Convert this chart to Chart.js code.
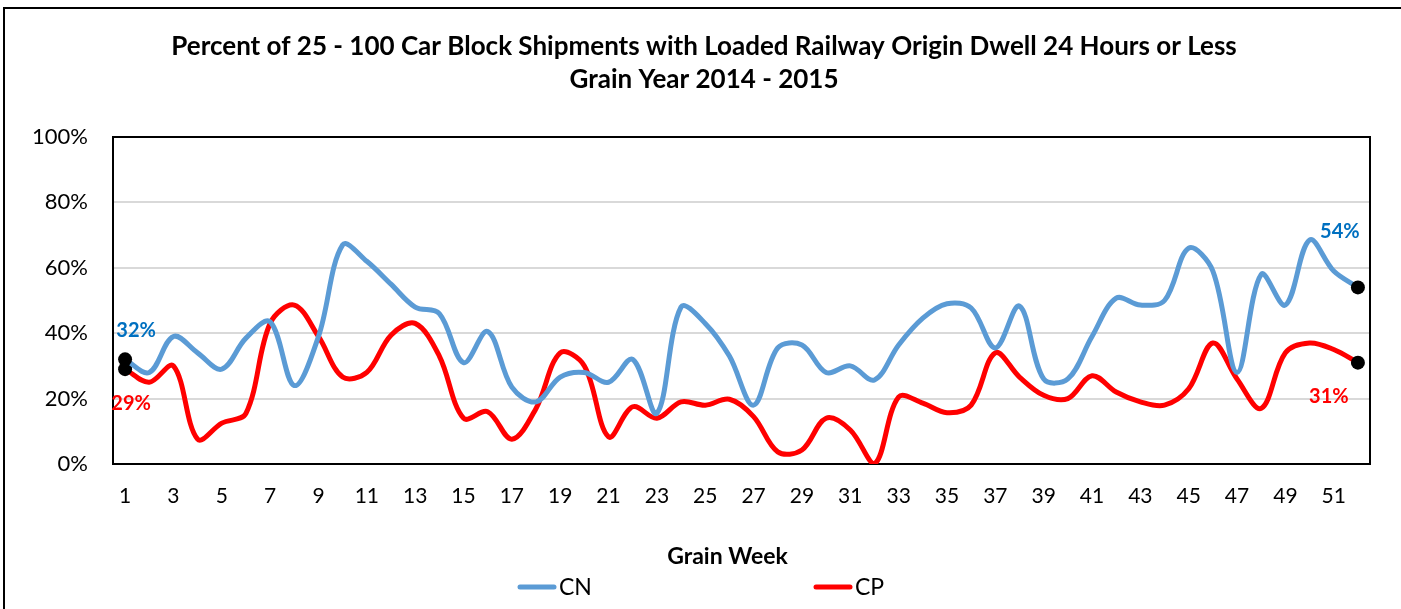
<!DOCTYPE html>
<html>
<head>
<meta charset="utf-8">
<title>Loaded Railway Origin Dwell</title>
<script src="https://cdn.jsdelivr.net/npm/chart.js@4.4.1/dist/chart.umd.min.js"></script>
<style>
    body { margin: 0; background: #fff; }
    #wrap { position: relative; width: 1401px; height: 609px; overflow: hidden; background: #fff; }
    #frame { position: absolute; left: 3px; top: 7px; width: 1420px; height: 640px; border-left: 2px solid #000; border-top: 2px solid #000; }
    canvas { position: absolute; left: 0; top: 0; }
</style>
</head>
<body>
<div id="wrap">
    <div id="frame"></div>
    <canvas id="dwellChart" width="1401" height="609"></canvas>
</div>
<script>
const weeks = [1, 2, 3, 4, 5, 6, 7, 8, 9, 10, 11, 12, 13, 14, 15, 16, 17, 18, 19, 20, 21, 22, 23, 24, 25, 26,
    27, 28, 29, 30, 31, 32, 33, 34, 35, 36, 37, 38, 39, 40, 41, 42, 43, 44, 45, 46, 47, 48, 49, 50, 51, 52];

const cnValues = [32, 28, 39, 34, 29, 38.5, 43.5, 24, 39, 67, 62, 55, 48, 46, 31, 40.5, 23.5, 19, 26.6, 28, 25, 32,
    15.5, 48, 43, 33, 18, 35.5, 36.4, 28, 30, 25.7, 36.4, 44.6, 49, 47.7, 35.5, 48.3, 26, 26, 39, 50.7, 48.6, 50,
    66, 59, 28, 58, 48.6, 68.5, 59, 54];

const cpValues = [29, 25, 30, 7.6, 12.5, 15.5, 43, 48.6, 39, 26.6, 28, 39.4, 43, 33, 14, 16, 7.6, 17, 34, 30, 8.3,
    17.5, 14, 19, 18, 19.8, 14.5, 3.7, 4.3, 14, 10.4, 0, 20.5, 18.6, 15.7, 18, 34, 26.6, 21, 20, 27, 22, 19, 18,
    23, 37, 26, 17, 34, 37, 35, 31];

const titleLines = ['Percent of 25 - 100 Car Block Shipments with Loaded Railway Origin Dwell 24 Hours or Less',
    'Grain Year 2014 - 2015'];
const xAxisTitle = 'Grain Week';

const FONT = 'Lato, "Liberation Sans", sans-serif';
const CN_COLOR = '#5B9BD5';
const CP_COLOR = '#FF0000';

// black dots only on the first and last week
const endPoint = (ctx) => (ctx.dataIndex === 0 || ctx.dataIndex === weeks.length - 1) ? 7 : 0;

// box around the plot area
const plotFrame = {
    id: 'plotFrame',
    beforeDatasetsDraw(chart) {
        const { ctx, chartArea: a } = chart;
        ctx.save();
        ctx.strokeStyle = '#000';
        ctx.lineWidth = 2;
        ctx.strokeRect(a.left, a.top, a.right - a.left, a.bottom - a.top);
        ctx.restore();
    }
};

// "32%" / "29%" / "54%" / "31%" value labels at the ends of each line
const endLabels = {
    id: 'endLabels',
    afterDatasetsDraw(chart) {
        const { ctx } = chart;
        const specs = [
            { ds: 0, idx: 0, dx: 11, dy: -29, color: '#0070C0' },
            { ds: 1, idx: 0, dx: 6, dy: 34, color: '#FF0000' },
            { ds: 0, idx: weeks.length - 1, dx: -18, dy: -56, color: '#0070C0' },
            { ds: 1, idx: weeks.length - 1, dx: -29, dy: 34, color: '#FF0000' }
        ];
        ctx.save();
        ctx.font = 'bold 20px ' + FONT;
        ctx.textAlign = 'center';
        ctx.textBaseline = 'middle';
        specs.forEach(s => {
            const pt = chart.getDatasetMeta(s.ds).data[s.idx];
            const value = chart.data.datasets[s.ds].data[s.idx];
            ctx.fillStyle = s.color;
            ctx.fillText(Math.round(value) + '%', pt.x + s.dx, pt.y + s.dy);
        });
        ctx.restore();
    }
};

// title, axis title and legend, placed like the original
const chartText = {
    id: 'chartText',
    afterDraw(chart) {
        const { ctx, chartArea: a } = chart;
        ctx.save();
        ctx.fillStyle = '#000';
        ctx.textBaseline = 'middle';
        ctx.textAlign = 'center';

        ctx.font = 'bold 26px ' + FONT;
        titleLines.forEach((line, i) => ctx.fillText(line, 704, 47 + i * 33));

        ctx.font = 'bold 23px ' + FONT;
        ctx.fillText(xAxisTitle, (a.left + a.right) / 2 - 14, 557);

        const y = 587;
        const gap = 296;
        const lineLen = 34;
        const start = 520;
        ctx.font = '23px ' + FONT;
        ctx.textAlign = 'left';
        chart.data.datasets.forEach((ds, i) => {
            const x = start + i * gap;
            ctx.strokeStyle = ds.borderColor;
            ctx.lineWidth = 5;
            ctx.lineCap = 'round';
            ctx.beginPath();
            ctx.moveTo(x, y);
            ctx.lineTo(x + lineLen, y);
            ctx.stroke();
            ctx.fillText(ds.label, x + lineLen + 5, y + 1);
        });
        ctx.restore();
    }
};

const ctx = document.getElementById('dwellChart').getContext('2d');

new Chart(ctx, {
    type: 'line',
    data: {
        labels: weeks,
        datasets: [
            {
                label: 'CN',
                data: cnValues,
                borderColor: CN_COLOR,
                backgroundColor: CN_COLOR,
                borderWidth: 5,
                tension: 0.35,
                pointRadius: endPoint,
                pointHoverRadius: endPoint,
                pointBackgroundColor: '#000',
                pointBorderColor: '#000',
                pointBorderWidth: 0
            },
            {
                label: 'CP',
                data: cpValues,
                borderColor: CP_COLOR,
                backgroundColor: CP_COLOR,
                borderWidth: 5,
                tension: 0.35,
                pointRadius: endPoint,
                pointHoverRadius: endPoint,
                pointBackgroundColor: '#000',
                pointBorderColor: '#000',
                pointBorderWidth: 0
            }
        ]
    },
    options: {
        responsive: false,
        animation: false,
        layout: {
            padding: { left: 0, right: 31, top: 137, bottom: 0 }
        },
        scales: {
            x: {
                offset: true,
                grid: { display: false, drawTicks: false },
                border: { display: false },
                ticks: {
                    autoSkip: false,
                    maxRotation: 0,
                    padding: 20,
                    color: '#000',
                    font: { family: FONT, size: 21 },
                    callback: function(value, index) {
                        return index % 2 === 0 ? this.getLabelForValue(value) : '';
                    }
                },
                afterFit: (scale) => { scale.height = 145; }
            },
            y: {
                min: 0,
                max: 100,
                grid: { color: '#d9d9d9', lineWidth: 2, drawTicks: false },
                border: { display: false },
                ticks: {
                    stepSize: 20,
                    padding: 25,
                    color: '#000',
                    font: { family: FONT, size: 22 },
                    callback: (v) => v + '%'
                },
                afterFit: (scale) => { scale.width = 113; }
            }
        },
        plugins: {
            legend: { display: false },
            tooltip: { enabled: false },
            title: { display: false }
        }
    },
    plugins: [plotFrame, endLabels, chartText]
});
</script>
</body>
</html>
